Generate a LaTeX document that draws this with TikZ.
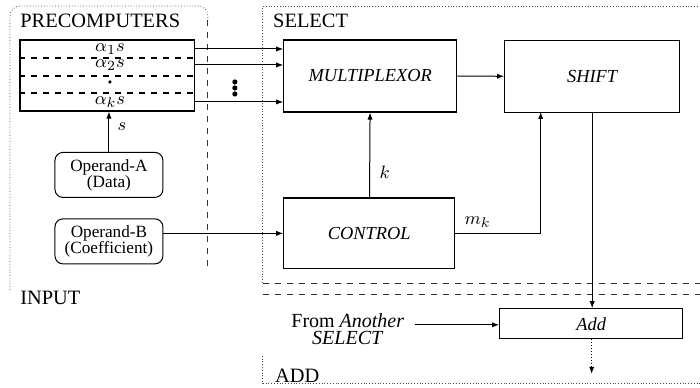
\documentclass[tikz,border=0pt]{standalone}
\usepackage{fontspec}
\setmainfont{Liberation Serif}
\usetikzlibrary{arrows.meta, positioning}

\begin{document}
\begin{tikzpicture}[
  x=0.5pt, y=-0.5pt,
  block/.style={rectangle, draw=black, line width=0.6pt, inner sep=0pt,
                minimum width=86.5pt, minimum height=36pt,
                font=\fontsize{9.2}{11}\selectfont\itshape},
  operand/.style={rectangle, draw=black, line width=0.5pt, rounded corners=4pt,
                  inner sep=0pt, minimum width=54pt, minimum height=22.5pt,
                  align=center, font=\fontsize{8.6}{8}\selectfont},
  region/.style={anchor=west, inner sep=0pt, font=\fontsize{10.2}{11}\selectfont},
  lbl/.style={inner sep=0pt, font=\fontsize{9.5}{10}\selectfont},
  arrow/.style={-{Latex[length=3.5pt,width=2.6pt]}, line width=0.5pt},
  border/.style={densely dotted, line width=0.4pt, black!70},
  split/.style={dashed, line width=0.4pt, black!80},
]
  % region outlines
  \draw[border, rounded corners=5pt] (10,290) -- (10,6) -- (208,6) -- (208,20);
  \draw[split] (208,20) -- (208,268);
  \draw[border] (263,283) -- (263,6) -- (700,6);
  \draw[split] (263,284) -- (700,284);
  \draw[split] (263,295) -- (700,295);
  \draw[border] (263,356) -- (263,384) -- (700,384);
  \node[region] (precomp) at (20,21) {PRECOMPUTERS};
  \node[region] (select) at (273,21) {SELECT};
  \node[region] (input) at (20,298) {INPUT};
  \node[region] (addreg) at (275,376) {ADD};

  % blocks
  \node[block, minimum width=87.5pt, minimum height=35.5pt] (pre) at (107.5,75.5) {};
  \node[block] (mux) at (370.5,76) {MULTIPLEXOR};
  \node[block, minimum width=87.5pt] (shift) at (592.5,76.5) {SHIFT};
  \node[block, minimum width=85.5pt, minimum height=35.5pt] (ctrl) at (369.5,233.5) {CONTROL};
  \node[block, minimum width=91.5pt, minimum height=15pt] (add) at (591.5,324) {Add};
  \node[operand] (opa) at (109,175) {Operand-A\\(Data)};
  \node[operand] (opb) at (109,241.5) {Operand-B\\(Coefficient)};

  % precomputed multiples
  \foreach \y in {58,76,93}
    \draw[dashed, line width=0.6pt] (pre.west |- 0,\y) -- (pre.east |- 0,\y);
  \node[lbl] (a1) at (110,49) {$\alpha_1 s$};
  \node[lbl] (a2) at (110,65) {$\alpha_2 s$};
  \node[lbl] (ak) at (110,102) {$\alpha_k s$};
  \fill (110,82) circle (0.9pt);
  \foreach \y in {82,88,94}
    \fill (235,\y) circle (1.3pt);

  % connections
  \foreach \r in {a1,a2,ak}
    \draw[arrow] (\r -| pre.east) -- (\r -| mux.west);
  \draw[arrow] (mux) -- (shift);
  \draw[arrow] (opa.north) -- (opa.north |- pre.south);
  \node[lbl] (slbl) at (122,127) {$s$};
  \draw[arrow] (opb.east |- ctrl.west) -- (ctrl.west);
  \draw[arrow] (ctrl) -- (mux);
  \node[lbl] (klbl) at (385,172) {$k$};
  \coordinate (mkin) at (541,112);
  \draw[arrow] (ctrl.east) -| (mkin);
  \node[lbl] (mklbl) at (478,222) {$m_k$};
  \draw[arrow] (shift.south) -- (shift.south |- add.north);
  \node[lbl, align=center, font=\fontsize{10}{8.6}\selectfont] (from) at (348,329)
    {From \textit{Another}\\\textit{SELECT}};
  \draw[arrow] (415,325) coordinate (fromout) -- (fromout -| add.west);
  \coordinate (out) at (592,374);
  \draw[arrow, densely dotted] (add.south -| out) -- (out);

  \useasboundingbox (0,0) rectangle (700,388);
\end{tikzpicture}
\end{document}
